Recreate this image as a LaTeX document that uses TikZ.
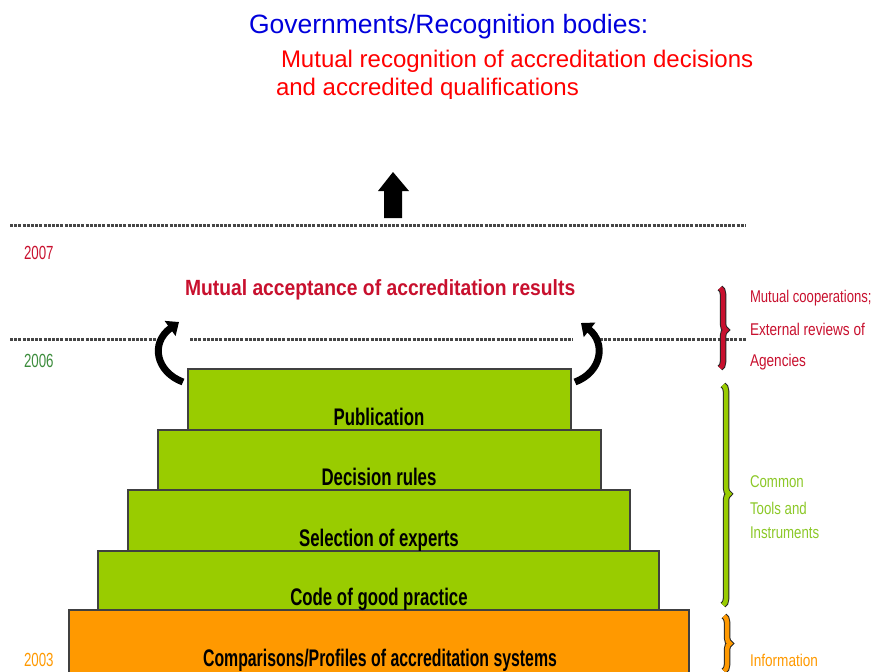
\documentclass[tikz,border=0pt]{standalone}
\usepackage{fontspec}
\setmainfont{Liberation Sans}
\usepackage{graphicx}
\usetikzlibrary{arrows.meta,decorations.pathreplacing}
\definecolor{stepgreen}{RGB}{153,204,0}
\definecolor{steporange}{RGB}{255,153,0}
\definecolor{darkred}{RGB}{200,16,46}
\definecolor{titleblue}{RGB}{0,0,220}
\definecolor{titlered}{RGB}{255,0,0}
\definecolor{yeargreen}{RGB}{60,140,60}
\definecolor{sidegreen}{RGB}{140,200,40}
\definecolor{dotgray}{RGB}{70,70,70}
\newcommand{\cnd}[2]{\scalebox{#1}[1]{#2}}
\begin{document}
\begin{tikzpicture}[x=1pt,y=-1pt,
  every node/.style={inner sep=0pt,outer sep=0pt},
  stepbox/.style={draw=black!75,line width=1.2pt,fill=stepgreen,anchor=north west},
  steplabel/.style={anchor=base,font=\fontsize{24}{28}\selectfont\bfseries,text=black},
  dotline/.style={draw=dotgray,line width=3pt,dash pattern=on 3pt off 1.2pt},
  yearlabel/.style={anchor=base west,font=\fontsize{19}{22}\selectfont},
  sidelabel/.style={anchor=base west,font=\fontsize{17}{20}\selectfont},
  bracebg/.style={draw=black!85,line width=6.5pt,decorate,decoration={brace,amplitude=6pt,aspect=#1}},
  bracefg/.style={line width=4.5pt,decorate,decoration={brace,amplitude=6pt,aspect=#1}},
  curvarrow/.style={line width=7pt,-{Triangle[length=11pt,width=18pt]}}]
\useasboundingbox (0,0) rectangle (874,671);
% header
\node[anchor=base west,font=\fontsize{26.5}{30}\selectfont,text=titleblue] (gov) at (249,34) {Governments/Recognition bodies:};
\node[anchor=base west,font=\fontsize{24}{28}\selectfont,text=titlered] (mr1) at (281,68) {Mutual recognition of accreditation decisions};
\begin{scope}
\clip (0,0) rectangle (874,99);
\node[anchor=base west,font=\fontsize{24}{28}\selectfont,text=titlered] (mr2) at (276,95.5) {and accredited qualifications};
\end{scope}
% up block arrow
\fill[black] (393,172) -- (409,191) -- (402,191) -- (402,218) -- (384,218) -- (384,191) -- (378,191) -- cycle;
% dotted lines
\coordinate (d1a) at (10,225); \coordinate (d1b) at (746,225);
\draw[dotline] (d1a) -- (d1b);
\coordinate (d2a) at (10,339); \coordinate (d2b) at (157,339);
\coordinate (d2c) at (190,339); \coordinate (d2d) at (573,339);
\coordinate (d2e) at (600,339); \coordinate (d2f) at (746,339);
\draw[dotline] (d2a) -- (d2b);
\draw[dotline] (d2c) -- (d2d);
\draw[dotline] (d2e) -- (d2f);
% years
\node[yearlabel,text=darkred] (y2007) at (24,259) {\cnd{0.7}{2007}};
\node[yearlabel,text=yeargreen] (y2006) at (24,367) {\cnd{0.7}{2006}};
\node[yearlabel,text=steporange] (y2003) at (24,666) {\cnd{0.7}{2003}};
% mutual acceptance
\node[anchor=base west,font=\fontsize{22}{26}\selectfont\bfseries,text=darkred] (macc) at (185,295) {\cnd{0.877}{Mutual acceptance of accreditation results}};
% steps
\node[stepbox,fill=steporange,minimum width=620pt,minimum height=72pt] (comp) at (69,610) {};
\node[stepbox,minimum width=561pt,minimum height=59pt] (code) at (98,551) {};
\node[stepbox,minimum width=502pt,minimum height=61pt] (sel) at (128,490) {};
\node[stepbox,minimum width=443pt,minimum height=60pt] (dec) at (158,430) {};
\node[stepbox,minimum width=383pt,minimum height=61pt] (pub) at (188,369) {};
\node[steplabel] (publbl) at (379,425) {\cnd{0.7}{Publication}};
\node[steplabel] (declbl) at (379,485.5) {\cnd{0.7}{Decision rules}};
\node[steplabel] (sellbl) at (379,546) {\cnd{0.7}{Selection of experts}};
\node[steplabel] (codelbl) at (379,605.5) {\cnd{0.7}{Code of good practice}};
\node[steplabel] (complbl) at (380,666) {\cnd{0.66}{Comparisons/Profiles of accreditation systems}};
% curved arrows
\coordinate (la1) at (183,382); \coordinate (la2) at (179,322);
\draw[curvarrow] (la1) .. controls (156,372) and (150,343) .. (la2);
\coordinate (ra1) at (575,382); \coordinate (ra2) at (581,323);
\draw[curvarrow] (ra1) .. controls (602,372) and (606,343) .. (ra2);
% braces
\coordinate (rb1) at (720,288); \coordinate (rb2) at (720,368);
\draw[bracebg=0.525] (rb1) -- (rb2);
\draw[bracefg=0.525,draw=darkred] (rb1) -- (rb2);
\coordinate (gb1) at (723,385); \coordinate (gb2) at (723,605);
\draw[bracebg=0.495] (gb1) -- (gb2);
\draw[bracefg=0.495,draw=stepgreen] (gb1) -- (gb2);
\coordinate (ob1) at (724,616); \coordinate (ob2) at (724,671);
\draw[bracebg=0.5] (ob1) -- (ob2);
\draw[bracefg=0.5,draw=steporange] (ob1) -- (ob2);
% side labels
\node[sidelabel,text=darkred] (s1) at (750,302) {\cnd{0.77}{Mutual cooperations;}};
\node[sidelabel,text=darkred] (s2) at (750,335) {\cnd{0.8}{External reviews of}};
\node[sidelabel,text=darkred] (s3) at (750,366) {\cnd{0.8}{Agencies}};
\node[sidelabel,text=sidegreen] (s4) at (750,487) {\cnd{0.78}{Common}};
\node[sidelabel,text=sidegreen] (s5) at (750,514) {\cnd{0.78}{Tools and}};
\node[sidelabel,text=sidegreen] (s6) at (750,538) {\cnd{0.78}{Instruments}};
\node[sidelabel,text=steporange] (s7) at (750,666) {\cnd{0.8}{Information}};
\end{tikzpicture}
\end{document}
